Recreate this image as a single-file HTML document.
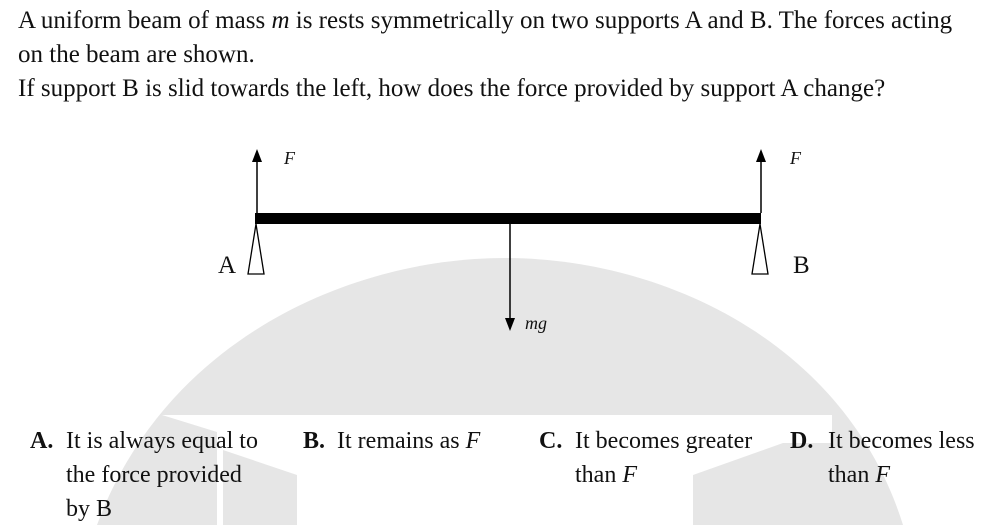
<!DOCTYPE html>
<html><head><meta charset="utf-8"><style>
html,body{margin:0;padding:0;background:#fff;}
body{width:1000px;height:525px;position:relative;overflow:hidden;font-family:"Liberation Serif",serif;color:#111;}
.t{position:absolute;font-size:25px;white-space:nowrap;}
.o{font-size:24px;line-height:34px;}
svg{position:absolute;left:0;top:0;}
</style></head><body>
<svg width="1000" height="525" viewBox="0 0 1000 525">
<path d="M97 525 C165 340 350 258 505 258 C660 258 845 340 903 525 Z" fill="#e6e6e6"/>
<rect x="162" y="415" width="670" height="110" fill="#fff"/>
<polygon points="162,415 217,432 217,525 162,525" fill="#e6e6e6"/>
<polygon points="223,450 297,475 297,525 223,525" fill="#e6e6e6"/>
<polygon points="693,475 783,443 832,443 832,525 693,525" fill="#e6e6e6"/>
<rect x="255" y="213" width="506" height="11" fill="#000"/>
<line x1="257" y1="160" x2="257" y2="213" stroke="#000" stroke-width="1.5"/>
<polygon points="257,149 252,162 262,162" fill="#000"/>
<line x1="761" y1="160" x2="761" y2="213" stroke="#000" stroke-width="1.5"/>
<polygon points="761,149 756,162 766,162" fill="#000"/>
<line x1="510" y1="224" x2="510" y2="320" stroke="#000" stroke-width="1.5"/>
<polygon points="510,331 505,318 515,318" fill="#000"/>
<polygon points="256,224 248,274 264,274" fill="#fff" stroke="#000" stroke-width="1.3"/>
<polygon points="760,224 752,274 768,274" fill="#fff" stroke="#000" stroke-width="1.3"/>
</svg>
<div class="t" style="left:18px;top:7px;">A uniform beam of mass <i>m</i> is rests symmetrically on two supports A and B. The forces acting</div>
<div class="t" style="left:18px;top:41px;">on the beam are shown.</div>
<div class="t" style="left:18px;top:75px;">If support B is slid towards the left, how does the force provided by support A change?</div>
<div class="t" style="left:284px;top:148px;font-size:18px;font-style:italic;">F</div>
<div class="t" style="left:790px;top:148px;font-size:18px;font-style:italic;">F</div>
<div class="t" style="left:218px;top:252px;font-size:25px;">A</div>
<div class="t" style="left:793px;top:252px;font-size:25px;">B</div>
<div class="t" style="left:525px;top:313px;font-size:18px;font-style:italic;">mg</div>
<div class="t o" style="left:30px;top:424px;"><b>A.</b></div>
<div class="t o" style="left:66px;top:424px;">It is always equal to<br>the force provided<br>by B</div>
<div class="t o" style="left:303px;top:424px;"><b>B.</b>&nbsp; It remains as <i>F</i></div>
<div class="t o" style="left:539px;top:424px;"><b>C.</b></div>
<div class="t o" style="left:575px;top:424px;">It becomes greater<br>than <i>F</i></div>
<div class="t o" style="left:790px;top:424px;"><b>D.</b></div>
<div class="t o" style="left:828px;top:424px;">It becomes less<br>than <i>F</i></div>
</body></html>
